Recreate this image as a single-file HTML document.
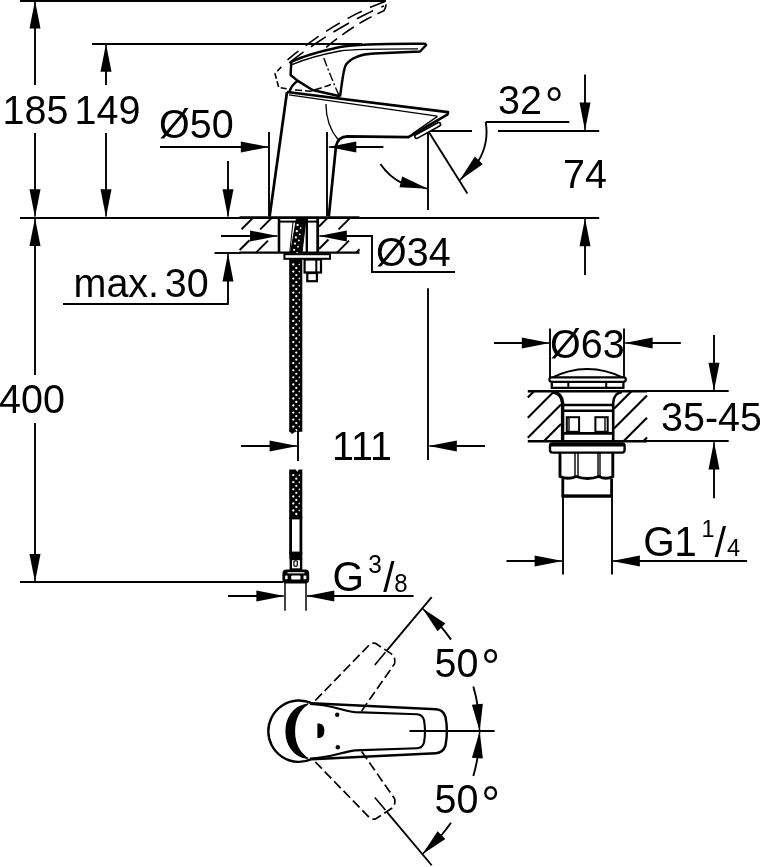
<!DOCTYPE html>
<html><head><meta charset="utf-8"><title>Dimensional drawing</title>
<style>
html,body{margin:0;padding:0;background:#fff;}
svg{display:block;will-change:transform;}
svg text{font-family:"Liberation Sans",sans-serif;fill:#000;stroke:none;}
</style></head>
<body>
<svg width="760" height="867" viewBox="0 0 760 867" stroke="#000" fill="none">
<rect x="0" y="0" width="760" height="867" fill="#fff" stroke="none"/>
<line x1="20" y1="1" x2="386" y2="1" stroke-width="1.9" />
<line x1="92" y1="44" x2="362" y2="44" stroke-width="1.9" />
<line x1="20" y1="218" x2="599.2" y2="218" stroke-width="1.9" />
<line x1="20" y1="582" x2="283" y2="582" stroke-width="1.9" />
<line x1="35" y1="10" x2="35" y2="85" stroke-width="1.9" />
<line x1="35" y1="133" x2="35" y2="210" stroke-width="1.9" />
<line x1="35" y1="225" x2="35" y2="375" stroke-width="1.9" />
<line x1="35" y1="423" x2="35" y2="575" stroke-width="1.9" />
<polygon points="35.00,0.50 40.50,28.50 29.50,28.50" fill="#000" stroke="none"/>
<line x1="35.00" y1="28.50" x2="35.00" y2="1.10" stroke-width="1.5"/>
<polygon points="35.00,217.20 29.50,189.20 40.50,189.20" fill="#000" stroke="none"/>
<line x1="35.00" y1="189.20" x2="35.00" y2="216.60" stroke-width="1.5"/>
<polygon points="35.00,218.00 40.50,246.00 29.50,246.00" fill="#000" stroke="none"/>
<line x1="35.00" y1="246.00" x2="35.00" y2="218.60" stroke-width="1.5"/>
<polygon points="35.00,582.00 29.50,554.00 40.50,554.00" fill="#000" stroke="none"/>
<line x1="35.00" y1="554.00" x2="35.00" y2="581.40" stroke-width="1.5"/>
<line x1="106" y1="50" x2="106" y2="85" stroke-width="1.9" />
<line x1="106" y1="133" x2="106" y2="210" stroke-width="1.9" />
<polygon points="106.00,43.80 111.50,71.80 100.50,71.80" fill="#000" stroke="none"/>
<line x1="106.00" y1="71.80" x2="106.00" y2="44.40" stroke-width="1.5"/>
<polygon points="106.00,217.20 100.50,189.20 111.50,189.20" fill="#000" stroke="none"/>
<line x1="106.00" y1="189.20" x2="106.00" y2="216.60" stroke-width="1.5"/>
<line x1="160" y1="147" x2="245" y2="147" stroke-width="1.9" />
<polygon points="268.80,147.00 240.80,152.50 240.80,141.50" fill="#000" stroke="none"/>
<line x1="240.80" y1="147.00" x2="268.20" y2="147.00" stroke-width="1.5"/>
<line x1="350" y1="147" x2="383.4" y2="147" stroke-width="1.9" />
<polygon points="328.30,147.00 356.30,141.50 356.30,152.50" fill="#000" stroke="none"/>
<line x1="356.30" y1="147.00" x2="328.90" y2="147.00" stroke-width="1.5"/>
<line x1="269" y1="132" x2="269" y2="216" stroke-width="1.9" />
<line x1="327" y1="132" x2="327" y2="216" stroke-width="1.9" />
<line x1="228" y1="161" x2="228" y2="195" stroke-width="1.9" />
<polygon points="228.00,217.20 222.50,189.20 233.50,189.20" fill="#000" stroke="none"/>
<line x1="228.00" y1="189.20" x2="228.00" y2="216.60" stroke-width="1.5"/>
<polygon points="228.00,253.40 233.50,281.40 222.50,281.40" fill="#000" stroke="none"/>
<line x1="228.00" y1="281.40" x2="228.00" y2="254.00" stroke-width="1.5"/>
<line x1="228" y1="275" x2="228" y2="303.5" stroke-width="1.9" />
<line x1="63" y1="304" x2="228.8" y2="304" stroke-width="1.9" />
<line x1="214.5" y1="253" x2="241" y2="253" stroke-width="1.9" />
<line x1="221" y1="236" x2="255" y2="236" stroke-width="1.9" />
<polygon points="278.00,236.00 250.00,241.50 250.00,230.50" fill="#000" stroke="none"/>
<line x1="250.00" y1="236.00" x2="277.40" y2="236.00" stroke-width="1.5"/>
<polygon points="318.80,236.00 346.80,230.50 346.80,241.50" fill="#000" stroke="none"/>
<line x1="346.80" y1="236.00" x2="319.40" y2="236.00" stroke-width="1.5"/>
<path d="M340,236 H372 V272 H455" stroke-width="1.9" fill="none" />
<line x1="428" y1="131" x2="428" y2="210" stroke-width="1.9" />
<line x1="429" y1="131" x2="472" y2="131" stroke-width="1.9" />
<line x1="498" y1="131" x2="599.2" y2="131" stroke-width="1.9" />
<line x1="428.5" y1="131.5" x2="467.4" y2="193.4" stroke-width="1.9" />
<line x1="486" y1="122" x2="569.3" y2="122" stroke-width="1.9" />
<path d="M485.67,121.73 A58,58 0 0 1 478.22,161.37" stroke-width="1.9" fill="none" />
<polygon points="459.41,180.58 474.86,156.59 482.79,164.22" fill="#000" stroke="none"/>
<line x1="478.82" y1="160.40" x2="459.82" y2="180.15" stroke-width="1.5"/>
<path d="M380.42,163.93 A58,58 0 0 0 403.07,183.63" stroke-width="1.9" fill="none" />
<polygon points="428.00,188.80 399.51,187.24 402.22,176.57" fill="#000" stroke="none"/>
<line x1="400.86" y1="181.91" x2="427.42" y2="188.65" stroke-width="1.5"/>
<line x1="585" y1="74.5" x2="585" y2="110" stroke-width="1.9" />
<polygon points="585.00,130.60 579.50,102.60 590.50,102.60" fill="#000" stroke="none"/>
<line x1="585.00" y1="102.60" x2="585.00" y2="130.00" stroke-width="1.5"/>
<polygon points="585.00,218.20 590.50,246.20 579.50,246.20" fill="#000" stroke="none"/>
<line x1="585.00" y1="246.20" x2="585.00" y2="218.80" stroke-width="1.5"/>
<line x1="585" y1="240" x2="585" y2="275" stroke-width="1.9" />
<line x1="428" y1="288.3" x2="428" y2="460" stroke-width="1.9" />
<polygon points="428.80,446.00 456.80,440.50 456.80,451.50" fill="#000" stroke="none"/>
<line x1="456.80" y1="446.00" x2="429.40" y2="446.00" stroke-width="1.5"/>
<line x1="450" y1="446" x2="485" y2="446" stroke-width="1.9" />
<line x1="241" y1="446" x2="275" y2="446" stroke-width="1.9" />
<polygon points="297.60,446.00 269.60,451.50 269.60,440.50" fill="#000" stroke="none"/>
<line x1="269.60" y1="446.00" x2="297.00" y2="446.00" stroke-width="1.5"/>
<line x1="298" y1="431" x2="298" y2="461" stroke-width="1.9" />
<line x1="228" y1="596" x2="262" y2="596" stroke-width="1.9" />
<polygon points="284.40,596.00 256.40,601.50 256.40,590.50" fill="#000" stroke="none"/>
<line x1="256.40" y1="596.00" x2="283.80" y2="596.00" stroke-width="1.5"/>
<polygon points="306.30,596.00 334.30,590.50 334.30,601.50" fill="#000" stroke="none"/>
<line x1="334.30" y1="596.00" x2="306.90" y2="596.00" stroke-width="1.5"/>
<line x1="328" y1="596" x2="413.6" y2="596" stroke-width="1.9" />
<line x1="285" y1="583" x2="285" y2="610.8" stroke-width="1.5" />
<line x1="306" y1="583" x2="306" y2="610.8" stroke-width="1.5" />
<line x1="494" y1="343" x2="528" y2="343" stroke-width="1.9" />
<polygon points="549.80,343.00 521.80,348.50 521.80,337.50" fill="#000" stroke="none"/>
<line x1="521.80" y1="343.00" x2="549.20" y2="343.00" stroke-width="1.5"/>
<polygon points="624.60,343.00 652.60,337.50 652.60,348.50" fill="#000" stroke="none"/>
<line x1="652.60" y1="343.00" x2="625.20" y2="343.00" stroke-width="1.5"/>
<line x1="646" y1="343" x2="680.8" y2="343" stroke-width="1.9" />
<line x1="550" y1="328.4" x2="550" y2="378" stroke-width="1.9" />
<line x1="624" y1="328.4" x2="624" y2="378" stroke-width="1.9" />
<line x1="714" y1="335" x2="714" y2="370" stroke-width="1.9" />
<polygon points="714.00,390.80 708.50,362.80 719.50,362.80" fill="#000" stroke="none"/>
<line x1="714.00" y1="362.80" x2="714.00" y2="390.20" stroke-width="1.5"/>
<polygon points="714.00,441.60 719.50,469.60 708.50,469.60" fill="#000" stroke="none"/>
<line x1="714.00" y1="469.60" x2="714.00" y2="442.20" stroke-width="1.5"/>
<line x1="714" y1="463" x2="714" y2="498.2" stroke-width="1.9" />
<line x1="646" y1="391" x2="728.7" y2="391" stroke-width="1.9" />
<line x1="646" y1="441" x2="728.7" y2="441" stroke-width="1.9" />
<line x1="506.5" y1="561" x2="540" y2="561" stroke-width="1.9" />
<polygon points="562.60,561.00 534.60,566.50 534.60,555.50" fill="#000" stroke="none"/>
<line x1="534.60" y1="561.00" x2="562.00" y2="561.00" stroke-width="1.5"/>
<polygon points="611.90,561.00 639.90,555.50 639.90,566.50" fill="#000" stroke="none"/>
<line x1="639.90" y1="561.00" x2="612.50" y2="561.00" stroke-width="1.5"/>
<line x1="634" y1="561" x2="747.1" y2="561" stroke-width="1.9" />
<line x1="563" y1="496" x2="563" y2="574.4" stroke-width="1.9" />
<line x1="612" y1="496" x2="612" y2="574.4" stroke-width="1.9" />
<text transform="translate(2.5,123.7) scale(1,1.045)" font-size="39.5" >185</text>
<text transform="translate(74.5,123.7) scale(1,1.045)" font-size="39.5" >149</text>
<text transform="translate(159,137.7) scale(1,1.045)" font-size="39.5" >Ø50</text>
<text transform="translate(73.5,297.2) scale(1,1.045)" font-size="39.5" style="word-spacing:-5.3px">max. 30</text>
<text transform="translate(-1,413) scale(1,1.045)" font-size="39.5" >400</text>
<text transform="translate(376,265.7) scale(1,1.045)" font-size="39.5" >Ø34</text>
<text transform="translate(498,114.4) scale(1,1.045)" font-size="39.5" >32<tspan font-size="47" dx="2.9" dy="7.0">°</tspan></text>
<text transform="translate(563,188) scale(1,1.045)" font-size="39.5" >74</text>
<text transform="translate(332,460) scale(1,1.045)" font-size="39.5" >111</text>
<text transform="translate(550,358) scale(1,1.045)" font-size="39.5" >Ø63</text>
<text transform="translate(661,431) scale(1,1.045)" font-size="39.5" >35-45</text>
<text transform="translate(332.6,591.3) scale(1,1.045)" font-size="40.5" >G</text>
<text transform="translate(368.2,573.1) scale(1,1.045)" font-size="24.5" >3</text>
<text transform="translate(383.2,592) scale(1,1.045)" font-size="40.5" >/</text>
<text transform="translate(394.2,591.6) scale(1,1.045)" font-size="24" >8</text>
<text transform="translate(643.2,556.2) scale(1,1.045)" font-size="40.5" >G</text>
<text transform="translate(674.3,556.4) scale(1,1.045)" font-size="40.5" >1</text>
<text transform="translate(701.6,536.8) scale(1,1.045)" font-size="23.5" >1</text>
<text transform="translate(714.8,556.8) scale(1,1.045)" font-size="40.5" >/</text>
<text transform="translate(727,556.1) scale(1,1.045)" font-size="23.6" >4</text>
<text transform="translate(434.5,676.6) scale(1,1.045)" font-size="39.5" >50<tspan font-size="47" dx="2.9" dy="7.0">°</tspan></text>
<text transform="translate(434.5,813.4) scale(1,1.045)" font-size="39.5" >50<tspan font-size="47" dx="2.9" dy="7.0">°</tspan></text>
<path d="M287,92 L269.6,216.5" stroke-width="2.7" fill="none" />
<path d="M287,92 L448,112.2 L447.3,114.6 L408.4,137.2 L347.5,136.3 Q338,136.6 336,146 L328.8,216.5" stroke-width="2.7" fill="none" stroke-linejoin="round"/>
<path d="M289,94.8 L437.2,116.2" stroke-width="1.3" fill="none" />
<path d="M437.5,116.4 L412,134" stroke-width="1.4" fill="none" />
<rect x="-14.4" y="-1.9" width="28.8" height="3.8" rx="1.9" transform="translate(427.7,130.4) rotate(-28.8)" fill="#fff" stroke-width="1.6"/>
<path d="M325.9,104 C326,118 330,130 338,139.5" stroke-width="1.3" fill="none" />
<path d="M291.3,62 C300,57.5 315,52.5 340,47 C355,44.4 375,43.4 425,43.7 L426.2,45 L420,51.5 L374,53.4 C362,54 351,58 346,64.5 C343,70 342.6,80 340,96.5" stroke-width="2.5" fill="none" stroke-linejoin="round"/>
<path d="M292,64.6 C305,59 320,54.8 340,51 C355,48.8 375,48.9 418,48.9" stroke-width="1.4" fill="none" />
<path d="M291.3,62 L290.6,75 L297.5,80.6 L312.5,90 L340,96.3" stroke-width="2.5" fill="none" stroke-linejoin="round"/>
<path d="M289.4,91.8 Q291.5,85 297.2,81.2" stroke-width="2.5" fill="none" />
<path d="M287.5,59.8 L295.0,53.7 L302.6,47.9 L310.1,42.3 L317.7,36.9 L325.2,31.9 L332.7,27.1 L340.3,22.6 L347.8,18.4 L355.3,14.4 L362.9,10.7 L370.4,7.3 L378.0,4.2 L385.5,1.3" stroke-width="1.6" fill="none" stroke-dasharray="16 9" stroke-dashoffset="2"/>
<path d="M287.5,64.0 L294.9,58.3 L302.3,52.8 L309.8,47.5 L317.2,42.5 L324.6,37.6 L332.0,32.9 L339.5,28.5 L346.9,24.2 L354.3,20.1 L361.7,16.3 L369.2,12.6 L376.6,9.1 L384.0,5.9" stroke-width="1.6" fill="none" stroke-dasharray="18 9" stroke-dashoffset="-2"/>
<path d="M326.2,47.4 L330.6,43.7 L335.1,40.2 L339.5,36.8 L344.0,33.6 L348.4,30.5 L352.9,27.5 L357.3,24.7 L361.8,22.0 L366.2,19.5 L370.7,17.1 L375.1,14.8 L379.6,12.7 L384.0,10.7 Q386.3,7 386.3,2.2" stroke-width="1.6" fill="none" stroke-dasharray="14 6.5"/>
<path d="M281.3,66.9 L275,73.8 L278.8,87.5 L287.5,88.8" stroke-width="1.6" fill="none" stroke-dasharray="6 2.5"/>
<path d="M295,90 L310,91.2 Q322,88 332.5,83.8" stroke-width="1.6" fill="none" stroke-dasharray="7 3"/>
<path d="M323.8,58 Q330,75 338.8,95" stroke-width="1.4" fill="none" stroke-dasharray="9 2.5 2 2.5"/>
<line x1="239.5" y1="217.6" x2="359.5" y2="217.6" stroke-width="2.6" />
<line x1="239.5" y1="252.7" x2="359.5" y2="252.7" stroke-width="2.2" />
<line x1="279" y1="217.6" x2="279" y2="252.7" stroke-width="2.6" />
<line x1="317.7" y1="217.6" x2="317.7" y2="252.7" stroke-width="2.8" />
<line x1="253.2" y1="217.6" x2="241.6" y2="229.2" stroke-width="2.0" />
<line x1="272" y1="217.6" x2="260.2" y2="229.4" stroke-width="2.0" />
<line x1="249.5" y1="240.2" x2="239.7" y2="250" stroke-width="2.0" />
<line x1="268" y1="240.6" x2="256" y2="252.6" stroke-width="2.0" />
<line x1="327.9" y1="217.6" x2="319" y2="226.5" stroke-width="2.0" />
<line x1="350.4" y1="217.6" x2="338.6" y2="229.4" stroke-width="2.0" />
<line x1="328.5" y1="239.5" x2="319" y2="249" stroke-width="2.0" />
<line x1="349" y1="240.6" x2="337" y2="252.6" stroke-width="2.0" />
<line x1="356.2" y1="252.6" x2="359.5" y2="249.3" stroke-width="2.0" />
<line x1="280" y1="221.6" x2="297" y2="221.6" stroke-width="2" />
<line x1="308" y1="221.6" x2="317" y2="221.6" stroke-width="2" />
<line x1="306.8" y1="217.6" x2="306.8" y2="252.7" stroke-width="2.4" />
<polygon points="296.5,218.5 306,218.5 302,252.7 290.5,252.7" fill="#000"/>
<line x1="293" y1="222" x2="289.8" y2="252" stroke-width="1" />
<circle cx="297.6" cy="225.0" r="1.15" fill="#fff" stroke="none"/>
<circle cx="300.6" cy="228.1" r="0.9" fill="#fff" stroke="none"/>
<circle cx="296.8" cy="231.2" r="1.15" fill="#fff" stroke="none"/>
<circle cx="299.8" cy="234.3" r="0.9" fill="#fff" stroke="none"/>
<circle cx="295.9" cy="237.4" r="1.15" fill="#fff" stroke="none"/>
<circle cx="298.9" cy="240.5" r="0.9" fill="#fff" stroke="none"/>
<circle cx="295.0" cy="243.6" r="1.15" fill="#fff" stroke="none"/>
<circle cx="298.0" cy="246.7" r="0.9" fill="#fff" stroke="none"/>
<circle cx="294.1" cy="249.8" r="1.15" fill="#fff" stroke="none"/>
<circle cx="297.1" cy="252.9" r="0.9" fill="#fff" stroke="none"/>
<rect x="284.4" y="254.2" width="45.6" height="4.6" fill="#fff" stroke-width="2"/>
<rect x="304.6" y="259.5" width="16.4" height="13" fill="#fff" stroke-width="2.2"/>
<line x1="316.3" y1="259.5" x2="316.3" y2="272.5" stroke-width="2" />
<rect x="307.3" y="273" width="9.6" height="8.2" fill="#fff" stroke-width="2.2"/>
<rect x="289.2" y="258.8" width="13.1" height="173.0" fill="#000" stroke="none"/>
<circle cx="293.3" cy="264.5" r="1.15" fill="#fff" stroke="none"/>
<circle cx="296.3" cy="268.0" r="1.15" fill="#fff" stroke="none"/>
<path d="M299.8,263.4 L298.2,264.5 L299.8,265.6 Z" fill="#fff" stroke="none"/>
<circle cx="293.3" cy="271.6" r="1.15" fill="#fff" stroke="none"/>
<circle cx="296.3" cy="275.1" r="1.15" fill="#fff" stroke="none"/>
<path d="M299.8,270.4 L298.2,271.6 L299.8,272.7 Z" fill="#fff" stroke="none"/>
<circle cx="293.3" cy="278.6" r="1.15" fill="#fff" stroke="none"/>
<circle cx="296.3" cy="282.1" r="1.15" fill="#fff" stroke="none"/>
<path d="M299.8,277.5 L298.2,278.6 L299.8,279.7 Z" fill="#fff" stroke="none"/>
<circle cx="293.3" cy="285.7" r="1.15" fill="#fff" stroke="none"/>
<circle cx="296.3" cy="289.2" r="1.15" fill="#fff" stroke="none"/>
<path d="M299.8,284.6 L298.2,285.7 L299.8,286.8 Z" fill="#fff" stroke="none"/>
<circle cx="293.3" cy="292.7" r="1.15" fill="#fff" stroke="none"/>
<circle cx="296.3" cy="296.2" r="1.15" fill="#fff" stroke="none"/>
<path d="M299.8,291.6 L298.2,292.7 L299.8,293.8 Z" fill="#fff" stroke="none"/>
<circle cx="293.3" cy="299.8" r="1.15" fill="#fff" stroke="none"/>
<circle cx="296.3" cy="303.3" r="1.15" fill="#fff" stroke="none"/>
<path d="M299.8,298.7 L298.2,299.8 L299.8,300.9 Z" fill="#fff" stroke="none"/>
<circle cx="293.3" cy="306.8" r="1.15" fill="#fff" stroke="none"/>
<circle cx="296.3" cy="310.3" r="1.15" fill="#fff" stroke="none"/>
<path d="M299.8,305.7 L298.2,306.8 L299.8,307.9 Z" fill="#fff" stroke="none"/>
<circle cx="293.3" cy="313.9" r="1.15" fill="#fff" stroke="none"/>
<circle cx="296.3" cy="317.4" r="1.15" fill="#fff" stroke="none"/>
<path d="M299.8,312.8 L298.2,313.9 L299.8,315.0 Z" fill="#fff" stroke="none"/>
<circle cx="293.3" cy="320.9" r="1.15" fill="#fff" stroke="none"/>
<circle cx="296.3" cy="324.4" r="1.15" fill="#fff" stroke="none"/>
<path d="M299.8,319.8 L298.2,320.9 L299.8,322.0 Z" fill="#fff" stroke="none"/>
<circle cx="293.3" cy="328.0" r="1.15" fill="#fff" stroke="none"/>
<circle cx="296.3" cy="331.5" r="1.15" fill="#fff" stroke="none"/>
<path d="M299.8,326.9 L298.2,328.0 L299.8,329.1 Z" fill="#fff" stroke="none"/>
<circle cx="293.3" cy="335.0" r="1.15" fill="#fff" stroke="none"/>
<circle cx="296.3" cy="338.5" r="1.15" fill="#fff" stroke="none"/>
<path d="M299.8,333.9 L298.2,335.0 L299.8,336.1 Z" fill="#fff" stroke="none"/>
<circle cx="293.3" cy="342.1" r="1.15" fill="#fff" stroke="none"/>
<circle cx="296.3" cy="345.6" r="1.15" fill="#fff" stroke="none"/>
<path d="M299.8,341.0 L298.2,342.1 L299.8,343.2 Z" fill="#fff" stroke="none"/>
<circle cx="293.3" cy="349.1" r="1.15" fill="#fff" stroke="none"/>
<circle cx="296.3" cy="352.6" r="1.15" fill="#fff" stroke="none"/>
<path d="M299.8,348.0 L298.2,349.1 L299.8,350.2 Z" fill="#fff" stroke="none"/>
<circle cx="293.3" cy="356.2" r="1.15" fill="#fff" stroke="none"/>
<circle cx="296.3" cy="359.7" r="1.15" fill="#fff" stroke="none"/>
<path d="M299.8,355.1 L298.2,356.2 L299.8,357.3 Z" fill="#fff" stroke="none"/>
<circle cx="293.3" cy="363.2" r="1.15" fill="#fff" stroke="none"/>
<circle cx="296.3" cy="366.7" r="1.15" fill="#fff" stroke="none"/>
<path d="M299.8,362.1 L298.2,363.2 L299.8,364.3 Z" fill="#fff" stroke="none"/>
<circle cx="293.3" cy="370.3" r="1.15" fill="#fff" stroke="none"/>
<circle cx="296.3" cy="373.8" r="1.15" fill="#fff" stroke="none"/>
<path d="M299.8,369.2 L298.2,370.3 L299.8,371.4 Z" fill="#fff" stroke="none"/>
<circle cx="293.3" cy="377.3" r="1.15" fill="#fff" stroke="none"/>
<circle cx="296.3" cy="380.8" r="1.15" fill="#fff" stroke="none"/>
<path d="M299.8,376.2 L298.2,377.3 L299.8,378.4 Z" fill="#fff" stroke="none"/>
<circle cx="293.3" cy="384.4" r="1.15" fill="#fff" stroke="none"/>
<circle cx="296.3" cy="387.9" r="1.15" fill="#fff" stroke="none"/>
<path d="M299.8,383.3 L298.2,384.4 L299.8,385.5 Z" fill="#fff" stroke="none"/>
<circle cx="293.3" cy="391.4" r="1.15" fill="#fff" stroke="none"/>
<circle cx="296.3" cy="394.9" r="1.15" fill="#fff" stroke="none"/>
<path d="M299.8,390.3 L298.2,391.4 L299.8,392.5 Z" fill="#fff" stroke="none"/>
<circle cx="293.3" cy="398.5" r="1.15" fill="#fff" stroke="none"/>
<circle cx="296.3" cy="402.0" r="1.15" fill="#fff" stroke="none"/>
<path d="M299.8,397.4 L298.2,398.5 L299.8,399.6 Z" fill="#fff" stroke="none"/>
<circle cx="293.3" cy="405.5" r="1.15" fill="#fff" stroke="none"/>
<circle cx="296.3" cy="409.0" r="1.15" fill="#fff" stroke="none"/>
<path d="M299.8,404.4 L298.2,405.5 L299.8,406.6 Z" fill="#fff" stroke="none"/>
<circle cx="293.3" cy="412.6" r="1.15" fill="#fff" stroke="none"/>
<circle cx="296.3" cy="416.1" r="1.15" fill="#fff" stroke="none"/>
<path d="M299.8,411.5 L298.2,412.6 L299.8,413.7 Z" fill="#fff" stroke="none"/>
<circle cx="293.3" cy="419.6" r="1.15" fill="#fff" stroke="none"/>
<circle cx="296.3" cy="423.1" r="1.15" fill="#fff" stroke="none"/>
<path d="M299.8,418.5 L298.2,419.6 L299.8,420.7 Z" fill="#fff" stroke="none"/>
<circle cx="293.3" cy="426.7" r="1.15" fill="#fff" stroke="none"/>
<circle cx="296.3" cy="430.2" r="1.15" fill="#fff" stroke="none"/>
<path d="M299.8,425.6 L298.2,426.7 L299.8,427.8 Z" fill="#fff" stroke="none"/>
<path d="M289.2,431 L292,434 L295,432 L296.5,430 L289.2,430 Z" fill="#000" stroke="none"/>
<rect x="289.2" y="469.5" width="13.1" height="49.0" fill="#000" stroke="none"/>
<circle cx="293.3" cy="475.2" r="1.15" fill="#fff" stroke="none"/>
<circle cx="296.3" cy="478.7" r="1.15" fill="#fff" stroke="none"/>
<path d="M299.8,474.1 L298.2,475.2 L299.8,476.3 Z" fill="#fff" stroke="none"/>
<circle cx="293.3" cy="482.2" r="1.15" fill="#fff" stroke="none"/>
<circle cx="296.3" cy="485.8" r="1.15" fill="#fff" stroke="none"/>
<path d="M299.8,481.1 L298.2,482.2 L299.8,483.4 Z" fill="#fff" stroke="none"/>
<circle cx="293.3" cy="489.3" r="1.15" fill="#fff" stroke="none"/>
<circle cx="296.3" cy="492.8" r="1.15" fill="#fff" stroke="none"/>
<path d="M299.8,488.2 L298.2,489.3 L299.8,490.4 Z" fill="#fff" stroke="none"/>
<circle cx="293.3" cy="496.4" r="1.15" fill="#fff" stroke="none"/>
<circle cx="296.3" cy="499.9" r="1.15" fill="#fff" stroke="none"/>
<path d="M299.8,495.2 L298.2,496.4 L299.8,497.5 Z" fill="#fff" stroke="none"/>
<circle cx="293.3" cy="503.4" r="1.15" fill="#fff" stroke="none"/>
<circle cx="296.3" cy="506.9" r="1.15" fill="#fff" stroke="none"/>
<path d="M299.8,502.3 L298.2,503.4 L299.8,504.5 Z" fill="#fff" stroke="none"/>
<circle cx="293.3" cy="510.5" r="1.15" fill="#fff" stroke="none"/>
<circle cx="296.3" cy="514.0" r="1.15" fill="#fff" stroke="none"/>
<path d="M299.8,509.4 L298.2,510.5 L299.8,511.6 Z" fill="#fff" stroke="none"/>
<path d="M295.5,468.8 L297.3,472 L299,468.8 Z" fill="#fff" stroke="none"/>
<rect x="290.6" y="518" width="10.3" height="35" fill="#fff" stroke-width="2.8"/>
<rect x="289.3" y="552" width="13" height="7" fill="#000" stroke="none"/>
<rect x="290.8" y="559" width="10.3" height="10.5" fill="#fff" stroke-width="2.4"/>
<rect x="293.9" y="560.8" width="3.4" height="5.4" rx="1" fill="#fff" stroke-width="1.2"/>
<rect x="283.4" y="570.4" width="24.8" height="12" rx="3" fill="#000" stroke-width="2"/>
<rect x="287.5" y="572.2" width="17" height="1.2" fill="#fff" stroke="none"/>
<rect x="285.2" y="575.6" width="2.4" height="3.6" fill="#fff" stroke="none"/>
<rect x="291.2" y="575.4" width="9.3" height="4" rx="1" fill="#fff" stroke="none"/>
<rect x="303.5" y="575.6" width="2.8" height="3.6" fill="#fff" stroke="none"/>
<path d="M550.4,378.4 Q587,359.6 624.8,378.4" stroke-width="2.2" fill="none" />
<rect x="549.4" y="377.4" width="76.4" height="4.4" rx="2.2" fill="#fff" stroke-width="2.2"/>
<path d="M551.8,381.8 V387.8 H623.4 V381.8" stroke-width="2.3" fill="none" />
<line x1="568.3" y1="381.8" x2="568.3" y2="387.8" stroke-width="2" />
<line x1="606.2" y1="381.8" x2="606.2" y2="387.8" stroke-width="2" />
<line x1="527.8" y1="391.2" x2="647" y2="391.2" stroke-width="2.6" />
<line x1="527.8" y1="441.3" x2="647" y2="441.3" stroke-width="2.4" />
<path d="M553,392 Q561.5,393 562.6,403 V441" stroke-width="3.4" fill="none" />
<path d="M622,392 Q613.6,393 613.2,403 V441" stroke-width="2.6" fill="none" />
<line x1="562" y1="405" x2="613" y2="405" stroke-width="2.4" />
<line x1="562" y1="410.8" x2="613" y2="410.8" stroke-width="2.4" />
<line x1="562" y1="433.4" x2="613" y2="433.4" stroke-width="2.6" />
<rect x="566.8" y="417.2" width="12.3" height="14.6" fill="#fff" stroke-width="2"/>
<rect x="595.4" y="417.2" width="12.3" height="14.6" fill="#fff" stroke-width="2"/>
<line x1="569" y1="417.2" x2="569" y2="431.8" stroke-width="1.4" />
<line x1="605" y1="417.2" x2="605" y2="431.8" stroke-width="1.4" />
<line x1="534" y1="391.2" x2="527.8" y2="397.4" stroke-width="2.1" />
<line x1="553.5" y1="392" x2="527.8" y2="417.7" stroke-width="2.1" />
<line x1="561" y1="404.5" x2="527.8" y2="437.7" stroke-width="2.1" />
<line x1="561" y1="424" x2="543.8" y2="441.3" stroke-width="2.1" />
<line x1="631.5" y1="391.2" x2="614" y2="408.7" stroke-width="2.1" />
<line x1="647" y1="395.5" x2="614" y2="428.5" stroke-width="2.1" />
<line x1="647" y1="417.8" x2="623.5" y2="441.3" stroke-width="2.1" />
<line x1="647" y1="437.6" x2="643.3" y2="441.3" stroke-width="2.1" />
<rect x="550" y="443.6" width="74.6" height="9" rx="2.5" fill="#fff" stroke-width="2.4"/>
<rect x="549.4" y="442.4" width="75.8" height="4.2" rx="1.5" fill="#000" stroke="none"/>
<path d="M560,452.8 V476.5 Q568,480 576.2,476.5 Q587.5,480.5 598.9,476.5 Q606,480 612.8,476.5 V452.8" stroke-width="2.9" fill="none" />
<line x1="575" y1="453" x2="575" y2="477" stroke-width="1.4" />
<line x1="578" y1="453" x2="578" y2="477" stroke-width="1.4" />
<line x1="598" y1="453" x2="598" y2="477" stroke-width="1.4" />
<line x1="600" y1="453" x2="600" y2="477" stroke-width="1.4" />
<path d="M562.8,478.5 V496 H611.6 V478.5" stroke-width="2.8" fill="none" />
<line x1="561.8" y1="496.2" x2="612.4" y2="496.2" stroke-width="2.8" />
<line x1="409.5" y1="731" x2="494.6" y2="731" stroke-width="1.9" />
<line x1="387.01" y1="650.38" x2="431.69" y2="597.14" stroke-width="1.9" />
<line x1="374.80" y1="664.94" x2="385.41" y2="652.30" stroke-width="1.6" />
<polygon points="422.37,608.25 445.37,623.41 437.61,631.20" fill="#000" stroke="none"/>
<line x1="441.49" y1="627.31" x2="422.79" y2="608.67" stroke-width="1.5"/>
<polygon points="479.70,731.20 471.91,704.77 482.87,703.83" fill="#000" stroke="none"/>
<line x1="477.39" y1="704.30" x2="479.65" y2="730.60" stroke-width="1.5"/>
<path d="M440.33,625.90 A160.5,160.5 0 0 1 450.99,639.60" stroke-width="1.9" fill="none" />
<path d="M473.33,686.42 A160.5,160.5 0 0 1 477.72,706.09" stroke-width="1.9" fill="none" />
<line x1="387.01" y1="812.02" x2="431.69" y2="865.26" stroke-width="1.9" />
<line x1="374.80" y1="797.46" x2="385.41" y2="810.10" stroke-width="1.6" />
<polygon points="422.37,854.15 437.61,831.20 445.37,838.99" fill="#000" stroke="none"/>
<line x1="441.49" y1="835.09" x2="422.79" y2="853.73" stroke-width="1.5"/>
<polygon points="479.70,731.20 482.87,758.57 471.91,757.63" fill="#000" stroke="none"/>
<line x1="477.39" y1="758.10" x2="479.65" y2="731.80" stroke-width="1.5"/>
<path d="M440.33,836.50 A160.5,160.5 0 0 0 450.99,822.80" stroke-width="1.9" fill="none" />
<path d="M473.33,775.98 A160.5,160.5 0 0 0 477.72,756.31" stroke-width="1.9" fill="none" />
<path d="M315.3,700.5 L369,645.2 Q371.5,642.6 375.5,643.4 L391,653.6 Q396,657.0 394.6,663.7 L361.6,711.0" stroke-width="1.7" fill="none" stroke-dasharray="9.5 4"/>
<path d="M315.3,761.9000000000001 L369,817.2 Q371.5,819.8000000000001 375.5,819.0000000000001 L391,808.8000000000001 Q396,805.4000000000001 394.6,798.7 L361.6,751.4000000000001" stroke-width="1.7" fill="none" stroke-dasharray="9.5 4"/>
<path d="M311.6,703.2 A30.7,30.7 0 1 0 311.6,759.2" stroke-width="2.4" fill="none" />
<path d="M311.6,703.2 L436,709.3 Q443,709.6 445.5,717 Q448.3,731.3 445.5,745.5 Q443,752.8 436,753.2 L311.6,759.2" stroke-width="2.4" fill="none" />
<path d="M308,704 C292,706 286,720 286,731.3 C286,742.5 292,756.5 308,758.5 C298,752 294.5,742 294.5,731.3 C294.5,720.5 298,710.5 308,704 Z" fill="#000" stroke-width="1.2"/>
<path d="M310,704 C330,704.5 340,710 355,712.1 L417,714.2 Q422.5,714.5 424,720 Q426,731.3 424,742.5 Q422.5,748 417,748.3 L355,750.4 C340,752.5 330,758 310,758.5" stroke-width="2.1" fill="none" />
<circle cx="337.2" cy="714.8" r="2.2" fill="#000" stroke="none"/>
<circle cx="337.8" cy="747.3" r="2.2" fill="#000" stroke="none"/>
<path d="M317.4,723.6 H319.5 Q324.4,724.5 324.4,730.8 Q324.4,737 319.5,738 H317.4 Z" fill="#000" stroke="none"/>
</svg>
</body></html>
